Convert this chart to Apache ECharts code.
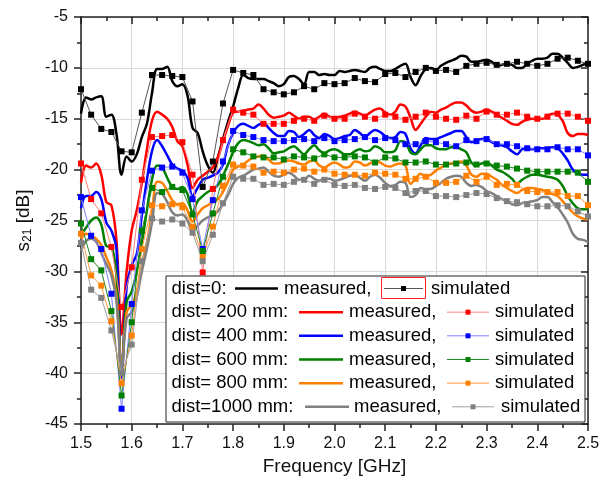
<!DOCTYPE html>
<html>
<head>
<meta charset="utf-8">
<script src="https://cdn.jsdelivr.net/npm/echarts@6/dist/echarts.min.js"></script>
<style>
  html, body { margin: 0; padding: 0; background: #fff; }
  #chart { width: 614px; height: 486px; }
</style>
</head>
<body>
<div id="chart"></div>
<script>
// frequency grid of the measured traces (GHz)
const freqMeas = [
  1.50, 1.51, 1.52, 1.53, 1.54, 1.55, 1.56, 1.57, 1.58, 1.59,
  1.60, 1.61, 1.62, 1.63, 1.64, 1.65, 1.66, 1.67, 1.68, 1.69,
  1.70, 1.71, 1.72, 1.73, 1.74, 1.75, 1.76, 1.77, 1.78, 1.79,
  1.80, 1.81, 1.82, 1.83, 1.84, 1.85, 1.86, 1.87, 1.88, 1.89,
  1.90, 1.91, 1.92, 1.93, 1.94, 1.95, 1.96, 1.97, 1.98, 1.99,
  2.00, 2.01, 2.02, 2.03, 2.04, 2.05, 2.06, 2.07, 2.08, 2.09,
  2.10, 2.11, 2.12, 2.13, 2.14, 2.15, 2.16, 2.17, 2.18, 2.19,
  2.20, 2.21, 2.22, 2.23, 2.24, 2.25, 2.26, 2.27, 2.28, 2.29,
  2.30, 2.31, 2.32, 2.33, 2.34, 2.35, 2.36, 2.37, 2.38, 2.39,
  2.40, 2.41, 2.42, 2.43, 2.44, 2.45, 2.46, 2.47, 2.48, 2.49,
  2.50
];
// frequency grid of the simulated points (GHz)
const freqSim = [
  1.50, 1.52, 1.54, 1.56, 1.58, 1.60, 1.62, 1.64, 1.66, 1.68,
  1.70, 1.72, 1.74, 1.76, 1.78, 1.80, 1.82, 1.84, 1.86, 1.88,
  1.90, 1.92, 1.94, 1.96, 1.98, 2.00, 2.02, 2.04, 2.06, 2.08,
  2.10, 2.12, 2.14, 2.16, 2.18, 2.20, 2.22, 2.24, 2.26, 2.28,
  2.30, 2.32, 2.34, 2.36, 2.38, 2.40, 2.42, 2.44, 2.46, 2.48,
  2.50
];

// measured S21 [dB]
const meas0 = [
  -14.5, -12.9, -13.1, -12.9, -12.8, -14.8, -14.6, -16.5, -20.5, -18.7,
  -19.2, -18.5, -16.8, -15.5, -12.5, -10.1, -10.1, -9.9, -11.3, -11.8,
  -11.6, -12.7, -15.9, -16.4, -18.2, -19.6, -20.3, -18.8, -17.0, -15.3,
  -13.8, -12.0, -10.7, -11.0, -11.1, -11.1, -11.1, -11.3, -11.5, -11.8,
  -11.6, -10.9, -10.8, -11.1, -11.6, -10.4, -10.4, -10.7, -10.6, -10.7,
  -10.7, -10.3, -10.4, -10.3, -10.2, -10.3, -10.4, -10.0, -9.9, -10.1,
  -10.3, -10.3, -10.1, -9.8, -9.6, -10.9, -11.7, -10.8, -10.1, -10.0,
  -10.2, -9.8, -9.5, -9.3, -9.1, -8.8, -8.9, -9.4, -9.4, -9.3,
  -9.2, -9.4, -9.8, -9.7, -9.6, -9.7, -10.0, -10.0, -9.6, -9.3,
  -9.1, -9.1, -9.0, -8.6, -8.6, -9.0, -9.5, -10.0, -9.9, -9.7,
  -9.5
];
const meas200 = [
  -21.3, -19.6, -19.8, -19.4, -20.5, -23.2, -23.5, -27.0, -36.2, -30.0,
  -26.0, -24.0, -21.3, -18.0, -15.2, -14.3, -14.6, -15.0, -15.8, -17.2,
  -17.7, -19.5, -21.8, -21.0, -20.6, -20.2, -19.8, -18.8, -17.2, -15.7,
  -14.4, -14.3, -14.2, -14.1, -14.0, -13.6, -14.0, -14.6, -14.9, -14.8,
  -14.7, -14.4, -14.7, -15.0, -14.8, -14.8, -15.1, -14.8, -14.5, -14.8,
  -14.9, -14.8, -14.7, -14.5, -14.3, -14.5, -14.7, -14.4, -14.1, -14.0,
  -14.4, -14.6, -14.3, -13.6, -13.8, -14.9, -16.1, -15.5, -14.8, -14.3,
  -14.4, -14.1, -13.9, -13.6, -13.4, -13.4, -13.7, -14.2, -14.4, -14.3,
  -14.1, -14.3, -14.6, -14.9, -15.2, -15.5, -15.6, -15.3, -15.1, -15.0,
  -15.0, -15.0, -14.7, -14.5, -14.6, -15.2, -16.4, -16.7, -16.5, -16.5,
  -16.6
];
const meas400 = [
  -23.8, -22.6, -22.6, -22.2, -22.9, -25.2, -26.0, -27.8, -40.5, -31.5,
  -29.4, -28.3, -24.5, -21.0, -18.2, -17.1, -17.7, -18.6, -19.5, -19.9,
  -20.1, -20.8, -22.6, -21.8, -21.0, -20.8, -20.6, -20.3, -19.5, -17.6,
  -16.4, -15.7, -15.5, -15.7, -15.9, -15.6, -15.4, -15.9, -16.4, -16.7,
  -16.7, -16.2, -16.3, -16.8, -16.5, -16.1, -16.6, -16.9, -16.5, -16.7,
  -17.0, -16.9, -16.7, -16.6, -16.1, -16.4, -16.8, -16.4, -16.1, -16.3,
  -16.7, -16.9, -16.8, -16.3, -16.5, -17.9, -18.4, -17.6, -16.9, -17.0,
  -17.0, -16.8, -16.6, -16.4, -16.2, -16.2, -16.8, -17.3, -17.2, -17.0,
  -17.0, -17.3, -17.5, -17.6, -17.8, -18.2, -18.5, -18.0, -17.9, -18.0,
  -17.9, -17.9, -17.9, -17.8, -17.9, -18.4, -19.1, -20.0, -20.4, -20.5,
  -20.5
];
const meas600 = [
  -26.4, -25.7, -25.0, -24.7, -25.4, -27.5, -27.6, -30.5, -40.0, -33.0,
  -32.0, -30.0, -27.2, -24.0, -21.0, -19.6, -19.8, -20.8, -21.7, -21.9,
  -21.7, -22.4, -24.2, -23.1, -22.6, -22.2, -21.9, -21.5, -20.6, -19.5,
  -18.3, -17.4, -17.1, -17.2, -17.4, -17.6, -17.5, -17.9, -18.4, -18.3,
  -18.2, -17.9, -17.7, -18.1, -18.5, -18.0, -17.6, -18.1, -18.4, -18.1,
  -18.0, -18.2, -18.5, -18.5, -18.2, -18.0, -18.2, -18.1, -17.7, -17.9,
  -18.3, -18.3, -18.1, -17.2, -17.3, -18.3, -18.5, -18.0, -17.6, -17.6,
  -17.9, -18.0, -18.0, -17.8, -17.8, -18.0, -18.3, -19.3, -19.6, -19.4,
  -19.3, -19.6, -20.0, -20.2, -20.5, -20.9, -21.4, -21.0, -20.7, -20.5,
  -20.5, -20.6, -20.7, -20.8, -21.0, -21.6, -22.6, -23.3, -23.8, -23.9,
  -23.9
];
const meas800 = [
  -26.8, -26.3, -26.5, -26.8, -27.4, -28.6, -29.9, -32.5, -39.5, -34.0,
  -33.3, -32.0, -29.5, -27.2, -24.2, -21.2, -21.3, -22.1, -23.0, -23.4,
  -23.3, -24.0, -25.1, -24.4, -23.8, -23.5, -23.2, -22.9, -22.2, -21.2,
  -20.0, -19.7, -19.5, -19.1, -18.8, -18.7, -18.6, -19.0, -19.4, -19.4,
  -19.2, -19.1, -19.2, -19.4, -19.5, -19.2, -19.1, -19.6, -19.8, -19.5,
  -19.3, -19.5, -19.8, -19.7, -19.2, -19.3, -19.6, -19.4, -19.2, -19.3,
  -19.6, -19.7, -19.5, -19.4, -19.6, -21.4, -20.9, -20.4, -20.7, -20.5,
  -20.1, -19.8, -19.5, -19.4, -19.3, -19.2, -19.6, -20.5, -20.7, -20.4,
  -20.4, -20.7, -21.0, -21.5, -21.8, -22.1, -22.3, -22.0, -21.8, -21.8,
  -21.9, -22.0, -22.2, -22.4, -22.6, -23.1, -23.7, -24.2, -24.6, -24.8,
  -24.9
];
const meas1000 = [
  -28.0, -27.0, -26.8, -27.1, -28.2, -29.3, -30.4, -33.0, -39.8, -34.6,
  -34.0, -32.5, -30.0, -27.8, -25.2, -22.3, -22.4, -23.2, -24.2, -24.5,
  -24.4, -25.0, -26.0, -25.5, -25.0, -24.7, -24.5, -24.1, -23.4, -22.5,
  -21.4, -20.8, -20.6, -20.3, -20.0, -19.9, -19.8, -20.2, -20.6, -20.7,
  -20.5, -20.3, -20.6, -21.0, -21.0, -20.6, -20.9, -21.1, -20.9, -20.9,
  -21.1, -21.0, -20.8, -20.6, -20.5, -20.8, -21.1, -20.7, -20.5, -20.8,
  -21.3, -21.6, -21.5, -21.2, -21.3, -22.7, -22.5, -21.8, -21.9, -21.9,
  -21.6, -21.3, -20.9, -20.7, -20.6, -20.7, -21.3, -21.6, -21.5, -21.7,
  -22.1, -22.3, -22.6, -22.9, -23.1, -23.4, -23.5, -23.3, -23.2, -23.1,
  -23.0, -22.7, -22.7, -23.2, -23.7, -24.4, -25.2, -26.3, -26.8, -26.9,
  -27.1
];

// simulated S21 [dB]
const sim0 = [
  -12.1, -14.6, -16.0, -16.3, -18.2, -18.3, -14.4, -10.7, -10.7, -10.8,
  -10.9, -13.3, -21.7, -19.2, -13.5, -10.2, -10.5, -10.7, -12.1, -12.4,
  -12.6, -12.4, -11.8, -12.1, -11.5, -11.6, -11.5, -11.0, -11.3, -11.4,
  -10.6, -10.5, -10.9, -10.4, -10.0, -10.3, -10.2, -10.4, -9.8, -9.6,
  -9.5, -9.7, -9.6, -9.4, -9.6, -9.8, -9.6, -9.1, -9.0, -9.3,
  -9.6
];
const sim200 = [
  -19.4, -22.9, -24.3, -27.6, -33.5, -29.6, -21.0, -16.8, -16.7, -16.6,
  -17.3, -20.5, -30.1, -21.9, -17.1, -14.1, -14.4, -14.6, -15.5, -15.5,
  -15.5, -15.2, -15.0, -15.2, -14.7, -15.0, -15.0, -14.5, -14.8, -15.0,
  -14.6, -14.8, -15.1, -14.8, -14.4, -14.8, -15.0, -15.1, -14.7, -15.0,
  -14.3, -14.6, -14.6, -14.4, -14.8, -15.0, -14.8, -14.5, -14.5, -14.8,
  -15.2
];
const sim400 = [
  -22.7, -26.5, -27.8, -32.2, -43.5, -33.2, -24.0, -20.1, -19.8, -19.7,
  -20.3, -22.9, -27.8, -23.0, -19.2, -16.2, -16.6, -16.8, -17.1, -17.2,
  -17.2, -17.1, -17.0, -17.2, -16.9, -17.2, -17.1, -17.0, -16.8, -17.1,
  -16.9, -17.1, -17.5, -17.5, -17.2, -17.3, -17.5, -17.7, -17.1, -17.2,
  -17.0, -17.5, -17.5, -17.7, -17.9, -18.0, -18.0, -17.8, -18.0, -18.0,
  -18.6
];
const sim600 = [
  -25.3, -28.8, -29.9, -33.9, -42.2, -35.0, -26.0, -21.8, -22.2, -21.7,
  -22.0, -24.4, -28.0, -24.3, -20.7, -18.0, -18.3, -18.7, -18.8, -18.8,
  -19.0, -18.7, -18.8, -18.9, -18.5, -18.8, -18.8, -18.7, -18.8, -19.3,
  -18.8, -18.9, -19.3, -19.3, -19.2, -19.5, -19.5, -19.4, -19.3, -19.5,
  -19.4, -19.6, -19.7, -19.9, -20.1, -20.2, -20.2, -20.2, -20.2, -20.3,
  -21.2
];
const sim800 = [
  -26.3, -30.4, -31.4, -34.9, -41.0, -36.3, -27.8, -23.5, -23.6, -23.4,
  -23.7, -25.6, -28.6, -25.6, -21.6, -19.5, -19.6, -19.7, -20.3, -20.2,
  -20.3, -20.0, -19.9, -20.2, -20.0, -20.4, -20.5, -20.5, -20.6, -20.3,
  -20.4, -20.5, -20.9, -20.9, -20.7, -21.3, -21.3, -21.2, -20.6, -21.2,
  -20.7, -21.5, -21.4, -21.5, -22.1, -22.2, -22.2, -22.2, -22.6, -22.6,
  -23.5
];
const sim1000 = [
  -27.2, -31.8, -32.6, -35.8, -40.0, -37.2, -29.0, -24.8, -25.1, -24.9,
  -25.3, -26.2, -29.0, -26.4, -23.3, -20.7, -20.9, -20.9, -21.5, -21.4,
  -21.5, -21.2, -21.0, -21.4, -21.0, -21.5, -21.6, -21.5, -21.8, -21.9,
  -21.7, -21.8, -22.3, -22.1, -22.1, -22.6, -22.6, -22.7, -22.5, -22.3,
  -22.4, -22.8, -23.1, -23.2, -23.4, -23.6, -23.6, -23.5, -23.6, -24.1,
  -24.6
];

const distLabels = ['dist=0:', 'dist= 200 mm:', 'dist= 400 mm:', 'dist= 600 mm:', 'dist= 800 mm:', 'dist=1000 mm:'];
const measSets = [meas0, meas200, meas400, meas600, meas800, meas1000];
const simSets = [sim0, sim200, sim400, sim600, sim800, sim1000];

const measColors = ['#000000', '#ff0000', '#0000ff', '#008000', '#ff8000', '#808080'];
const simLineColors = ['#555555', '#ff8080', '#8080ff', '#1a8a1a', '#ff9a40', '#a0a0a0'];

const FONT = '"Liberation Sans", Arial, sans-serif';

const chart = echarts.init(document.getElementById('chart'), null, { renderer: 'canvas' });

const series = [];
measSets.forEach((vals, i) => {
  series.push({
    name: distLabels[i] + ' measured',
    type: 'line',
    data: freqMeas.map((f, k) => [f, vals[k]]),
    showSymbol: false,
    smooth: 0.35,
    lineStyle: { color: measColors[i], width: 2.5 },
    z: 3
  });
  series.push({
    name: distLabels[i] + ' simulated',
    type: 'line',
    data: freqSim.map((f, k) => [f, simSets[i][k]]),
    symbol: 'rect',
    symbolSize: 6,
    itemStyle: { color: measColors[i] },
    lineStyle: { color: simLineColors[i], width: 1 },
    z: 4
  });
});

// legend (Origin style rows), drawn as graphics
const rowY0 = 288.5, rowStep = 23.66;
const rowLayout = [
  { m1: 235, m2: 278, mt: 284, s1: 384, s2: 423, st: 431 },
  { m1: 299, m2: 343, mt: 349, s1: 447, s2: 489, st: 495 },
  { m1: 299, m2: 343, mt: 349, s1: 447, s2: 489, st: 495 },
  { m1: 299, m2: 343, mt: 349, s1: 447, s2: 489, st: 495 },
  { m1: 299, m2: 343, mt: 349, s1: 447, s2: 489, st: 495 },
  { m1: 305, m2: 349, mt: 354, s1: 452, s2: 494, st: 501 }
];
const legendFont = '18.5px ' + FONT;
const graphics = [{
  type: 'rect',
  shape: { x: 166, y: 276, width: 419, height: 146 },
  style: { fill: '#fff', stroke: '#222', lineWidth: 1 },
  z: 10
}, {
  type: 'rect',
  shape: { x: 381.5, y: 277.5, width: 44, height: 21 },
  style: { fill: 'none', stroke: '#ff2020', lineWidth: 1 },
  z: 11
}];
distLabels.forEach((lab, i) => {
  const y = rowY0 + rowStep * i;
  const L = rowLayout[i];
  graphics.push({ type: 'text', z: 11, style: { text: lab, x: 171.5, y: y, font: legendFont, fill: '#000', verticalAlign: 'middle' } });
  graphics.push({ type: 'line', z: 11, shape: { x1: L.m1, y1: y, x2: L.m2, y2: y }, style: { stroke: measColors[i], lineWidth: 2.5 } });
  graphics.push({ type: 'text', z: 11, style: { text: 'measured,', x: L.mt, y: y, font: legendFont, fill: '#000', verticalAlign: 'middle' } });
  graphics.push({ type: 'line', z: 11, shape: { x1: L.s1, y1: y, x2: L.s2, y2: y }, style: { stroke: simLineColors[i], lineWidth: 1 } });
  const cx = (L.s1 + L.s2) / 2;
  graphics.push({ type: 'rect', z: 12, shape: { x: cx - 2.5, y: y - 2.5, width: 5, height: 5 }, style: { fill: measColors[i] } });
  graphics.push({ type: 'text', z: 11, style: { text: 'simulated', x: L.st, y: y, font: legendFont, fill: '#000', verticalAlign: 'middle' } });
});

const axisLine = { show: true, lineStyle: { color: '#222', width: 1.5 } };
const splitLine = { show: true, lineStyle: { color: '#d9d9d9', width: 1 } };

const option = {
  animation: false,
  backgroundColor: '#fff',
  grid: { left: 81, top: 17, width: 507, height: 407, containLabel: false },
  xAxis: [{
    type: 'value',
    min: 1.5, max: 2.5, interval: 0.1,
    name: 'Frequency [GHz]',
    nameLocation: 'middle',
    nameGap: 33,
    nameTextStyle: { fontFamily: FONT, fontSize: 19, color: '#111' },
    axisLine: axisLine,
    axisTick: { show: true, inside: false, length: 7, lineStyle: { color: '#222', width: 1.5 } },
    minorTick: { show: true, splitNumber: 2, length: 4, lineStyle: { color: '#222', width: 1.5 } },
    axisLabel: { fontFamily: FONT, fontSize: 16, color: '#111', margin: 12, formatter: v => v.toFixed(1) },
    splitLine: splitLine
  }, {
    type: 'value',
    position: 'top',
    min: 1.5, max: 2.5, interval: 0.1,
    axisLine: axisLine,
    axisTick: { show: true, inside: true, length: 7, lineStyle: { color: '#222', width: 1.5 } },
    minorTick: { show: true, splitNumber: 2, length: 4, lineStyle: { color: '#222', width: 1.5 } },
    axisLabel: { show: false },
    splitLine: { show: false }
  }],
  yAxis: [{
    type: 'value',
    min: -45, max: -5, interval: 5,
    name: '{s|s}{sub|21}{s| [dB]}',
    nameLocation: 'middle',
    nameGap: 43,
    nameRotate: 90,
    nameTextStyle: {
      rich: {
        s: { fontFamily: FONT, fontSize: 19, color: '#111' },
        sub: { fontFamily: FONT, fontSize: 12, color: '#111', verticalAlign: 'bottom', padding: [8, 0, 0, 0] }
      }
    },
    axisLine: axisLine,
    axisTick: { show: true, inside: false, length: 7, lineStyle: { color: '#222', width: 1.5 } },
    minorTick: { show: true, splitNumber: 2, length: 4, lineStyle: { color: '#222', width: 1.5 } },
    axisLabel: { fontFamily: FONT, fontSize: 16, color: '#111', margin: 13 },
    splitLine: splitLine
  }, {
    type: 'value',
    position: 'right',
    min: -45, max: -5, interval: 5,
    axisLine: axisLine,
    axisTick: { show: true, inside: true, length: 7, lineStyle: { color: '#222', width: 1.5 } },
    minorTick: { show: true, splitNumber: 2, length: 4, lineStyle: { color: '#222', width: 1.5 } },
    axisLabel: { show: false },
    splitLine: { show: false }
  }],
  series: series,
  graphic: graphics
};

chart.setOption(option);
</script>
</body>
</html>
